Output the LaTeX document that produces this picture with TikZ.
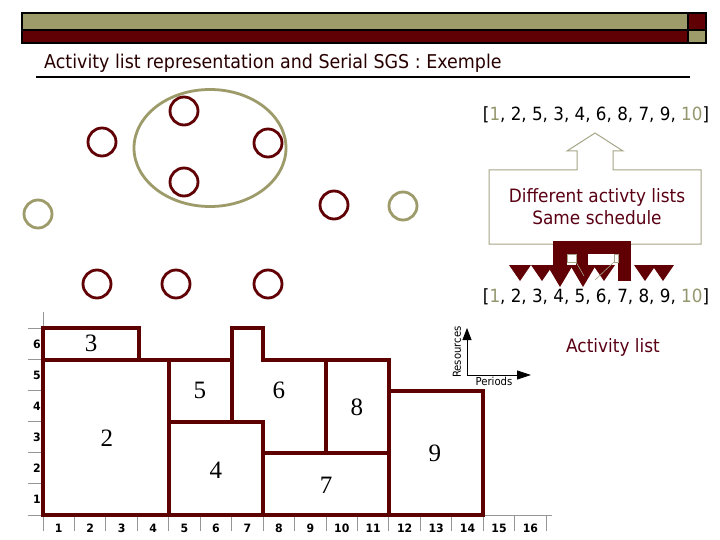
\documentclass[tikz,border=0pt]{standalone}
\usepackage{fontspec}
\newfontfamily\tah[FakeStretch=0.92]{DejaVu Sans}
\newfontfamily\tahbold[FakeStretch=0.95]{DejaVu Sans Bold}
\newfontfamily\tserif{Liberation Serif}
\usetikzlibrary{shapes.geometric,arrows.meta}
\definecolor{maroonc}{RGB}{96,0,4}
\definecolor{gantt}{RGB}{92,0,0}
\definecolor{olivec}{RGB}{157,155,106}
\definecolor{olivet}{RGB}{150,150,110}
\definecolor{calloutc}{RGB}{165,165,135}
\definecolor{txtm}{RGB}{90,0,20}
\definecolor{titlec}{RGB}{40,0,0}
\definecolor{axisg}{RGB}{150,150,150}
\tikzset{
  act/.style={circle, draw=maroonc, line width=2.8pt, minimum size=28pt, inner sep=0pt},
  dum/.style={act, draw=olivec},
  gblock/.style={draw=gantt, line width=4pt, line join=miter},
  axline/.style={draw=axisg, line width=1pt},
  axlab/.style={font=\tahbold\fontsize{11.5}{12}\selectfont, inner sep=0pt},
  glab/.style={font=\tserif\fontsize{25}{26}\selectfont, inner sep=0pt},
  listtxt/.style={font=\tah\fontsize{18.2}{22}\selectfont, inner sep=0pt, anchor=base},
  mshape/.style={fill=maroonc},
}
\begin{document}
\begin{tikzpicture}[x=1pt,y=-1pt]
\useasboundingbox (0,0) rectangle (720,540);
\fill[white] (0,0) rectangle (720,540);

% header bar
\fill[olivec] (22,13) rectangle (688,30);
\fill[maroonc] (22,30) rectangle (688,43);
\fill[maroonc] (688,13) rectangle (706,30);
\fill[olivec] (688,30) rectangle (706,43);
\draw[black, line width=1.5pt] (22,13) rectangle (706,43);
\draw[black, line width=1.2pt] (22,30) -- (706,30);
\draw[black, line width=1.2pt] (688,13) -- (688,43);

% title
\node[anchor=base west, inner sep=0pt, text=titlec, font=\tah\fontsize{19}{22}\selectfont] (title) at (44,69) {Activity list representation and Serial SGS : Exemple};
\coordinate (ul1) at (36,77);
\coordinate (ul2) at (690,77);
\draw[black, line width=1.6pt] (ul1) -- (ul2);

% activity network nodes
\node[ellipse, draw=olivec, line width=2.8pt, minimum width=152pt, minimum height=117pt, inner sep=0pt] (grp) at (210,148) {};
\node[act] (c1) at (102,142) {};
\node[act] (c2) at (184,111) {};
\node[act] (c3) at (268,143) {};
\node[act] (c4) at (184,182) {};
\node[dum] (c0) at (38,214) {};
\node[act] (c5) at (334,205) {};
\node[dum] (c11) at (403,206) {};
\node[act] (c6) at (97,284) {};
\node[act] (c7) at (176,284) {};
\node[act] (c8) at (268,284) {};

% lists
\node[listtxt] (list1) at (596,121) {[\textcolor{olivet}{1}, 2, 5, 3, 4, 6, 8, 7, 9, \textcolor{olivet}{10}]};
\node[listtxt] (list2) at (596,302) {[\textcolor{olivet}{1}, 2, 3, 4, 5, 6, 7, 8, 9, \textcolor{olivet}{10}]};

% callout
\draw[calloutc, fill=white, line width=1pt] (489,244) -- (489,170) -- (577,170) -- (577,151) -- (567,151) -- (595,133) -- (623,151) -- (613,151) -- (613,170) -- (701,170) -- (701,244) -- cycle;
\node[align=center, text=txtm, font=\tah\fontsize{18.4}{22}\selectfont, inner sep=0pt] (callt) at (597,207) {Different activty lists\\Same schedule};

% broken maroon arrow
\fill[mshape] (553,241) rectangle (631,254);
\fill[mshape] (553,254) rectangle (567,268);
\fill[mshape] (576,254) rectangle (588,268);
\fill[mshape] (618,254) rectangle (631,281);
\fill[mshape] (547,265) -- (573,265) -- (560,287) -- cycle;
\fill[mshape] (570,265) -- (596,265) -- (583,287) -- cycle;
\foreach \cx in {520,542,604,645,663} {
  \fill[mshape] (\cx-11,265) -- (\cx+11,265) -- (\cx,281) -- cycle;
}
\draw[calloutc, line width=0.6pt] (567,254) rectangle (576,262);
\draw[calloutc, line width=0.6pt] (614,254) rectangle (618,262);
\draw[calloutc, line width=0.6pt] (576,262) -- (584,276);
\draw[calloutc, line width=0.6pt] (614,262) -- (595,280);

% activity list label
\node[anchor=base west, inner sep=0pt, text=txtm, font=\tah\fontsize{18.4}{22}\selectfont] (al) at (566,352) {Activity list};

% Resources / Periods mini axes
\coordinate (ro) at (467,375);
\coordinate (rt) at (467,328);
\coordinate (pt) at (531,375);
\draw[black, line width=0.8pt, -{Triangle[length=12pt,width=9pt]}] (ro) -- (rt);
\draw[black, line width=0.8pt, -{Triangle[length=14pt,width=9pt]}] (ro) -- (pt);
\node[rotate=90, inner sep=0pt, font=\tah\fontsize{11}{12}\selectfont] (res) at (457,352) {Resources};
\node[inner sep=0pt, font=\tah\fontsize{11}{12}\selectfont] (per) at (494,381) {Periods};

% Gantt chart
\begin{scope}[shift={(43,515)}, x=31.45pt, y=31.1pt]
  \draw[axline] (-0.48,0) -- (16.2,0);
  \draw[axline] (0,0) -- (0,6.53);
  \foreach \k in {0,...,6} { \draw[axline] (-0.48,\k) -- (0,\k); }
  \foreach \k in {0,...,16} { \draw[axline] (\k,0) -- (\k,-0.5); }
  \foreach \k in {1,...,16} { \node[axlab] (xl\k) at (\k-0.5,-0.42) {\k}; }
  \foreach \k in {1,...,6} { \node[axlab] (yl\k) at (-0.19,\k-0.5) {\k}; }

  \draw[gblock] (0,5) rectangle (3.05,6);
  \draw[gblock] (0,0) rectangle (4,5);
  \draw[gblock] (4,3) rectangle (6,5);
  \draw[gblock] (4,0) rectangle (7,3);
  \draw[gblock] (6,3) -- (6,6) -- (7,6) -- (7,5) -- (9,5) -- (9,2) -- (7,2) -- (7,3) -- cycle;
  \draw[gblock] (7,0) rectangle (11,2);
  \draw[gblock] (9,2) rectangle (11,5);
  \draw[gblock] (11,0) rectangle (14,4);

  \node[glab] (g3) at (1.53,5.53) {3};
  \node[glab] (g2) at (2.03,2.48) {2};
  \node[glab] (g5) at (4.99,4.02) {5};
  \node[glab] (g4) at (5.5,1.45) {4};
  \node[glab] (g6) at (7.5,4.02) {6};
  \node[glab] (g8) at (9.98,3.47) {8};
  \node[glab] (g7) at (9.0,0.96) {7};
  \node[glab] (g9) at (12.46,1.99) {9};
\end{scope}
\end{tikzpicture}
\end{document}
